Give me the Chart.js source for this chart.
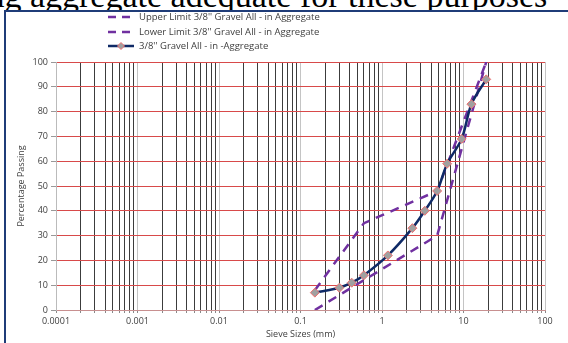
<!DOCTYPE html>
<html>
<head>
<meta charset="utf-8">
<script src="https://cdn.jsdelivr.net/npm/chart.js@4.4.0/dist/chart.umd.min.js"></script>
<style>
  html, body { margin: 0; padding: 0; background: #fff; }
  body { width: 568px; height: 343px; position: relative; overflow: hidden; }
  #doctext {
    position: absolute; left: -22px; top: -23px; white-space: nowrap;
    font-family: "Liberation Serif", serif; font-size: 34px; color: #000;
  }
  #frame {
    position: absolute; left: 4px; top: 10px; width: 580px; height: 350px;
    border: 2px solid #1f3c78; border-right: none; border-bottom: none; box-sizing: border-box;
    background: #fff;
  }
  #wrap { position: absolute; left: 0; top: 0; width: 568px; height: 343px; }
  #legend {
    position: absolute; left: 106px; top: 10px;
    font-family: "Open Sans", sans-serif; font-size: 9.5px; color: #404040;
  }
  #legend div { height: 14.5px; line-height: 14.5px; white-space: nowrap; }
  #legend canvas { vertical-align: middle; margin-right: 5px; }
</style>
</head>
<body>
<div id="doctext">ing aggregate adequate for these purposes</div>
<div id="frame"></div>
<div id="wrap"><canvas id="chart" width="568" height="343"></canvas></div>
<div id="legend"></div>
<script>
// sieve sizes (mm) and % passing
const sampleSizes = [0.15, 0.3, 0.425, 0.6, 1.18, 2.36, 3.35, 4.75, 6.3, 9.5, 12.5, 19];
const samplePassing = [7, 9, 11, 14, 22, 33, 40, 48, 59, 69, 83, 93];

const upperSizes = [0.15, 0.6, 4.75, 19];
const upperPassing = [8, 35, 48, 100];

const lowerSizes = [0.15, 4.75, 19];
const lowerPassing = [0, 30, 100];

const xTickLabels = ['0.0001', '0.001', '0.01', '0.1', '1', '10', '100'];
const yTicks = [0, 10, 20, 30, 40, 50, 60, 70, 80, 90, 100];

const labels = [
  "Upper Limit 3/8'' Gravel All - in Aggregate",
  "Lower Limit 3/8'' Gravel All - in Aggregate",
  "3/8'' Gravel All - in -Aggregate"
];

function pts(xs, ys) {
  return xs.map((x, i) => ({ x: x, y: ys[i] }));
}

const PURPLE = '#7030a0';
const NAVY = '#0f2a66';

const data = {
  datasets: [
    {
      label: labels[0],
      data: pts(upperSizes, upperPassing),
      showLine: true,
      borderColor: PURPLE,
      borderWidth: 2.5,
      borderDash: [9, 7],
      pointRadius: 0,
      order: 2
    },
    {
      label: labels[1],
      data: pts(lowerSizes, lowerPassing),
      showLine: true,
      borderColor: PURPLE,
      borderWidth: 2.5,
      borderDash: [9, 7],
      pointRadius: 0,
      order: 2
    },
    {
      label: labels[2],
      data: pts(sampleSizes, samplePassing),
      showLine: true,
      borderColor: NAVY,
      borderWidth: 2.5,
      tension: 0.3,
      pointStyle: 'rectRot',
      pointRadius: 4.5,
      pointBackgroundColor: '#a0a0a0',
      pointBorderColor: '#f07070',
      pointBorderWidth: 1,
      order: 1
    }
  ]
};

function isDecade(v) {
  const l = Math.log10(v);
  return Math.abs(l - Math.round(l)) < 1e-9;
}

const FONT = { family: 'Open Sans', size: 9 };

const options = {
  responsive: false,
  animation: false,
  layout: { padding: { left: 13, top: 62, right: 23, bottom: 0 } },
  plugins: {
    legend: { display: false },
    tooltip: { enabled: false }
  },
  scales: {
    x: {
      type: 'logarithmic',
      min: 0.0001,
      max: 100,
      afterFit: function(scale) { scale.height = 33; },
      afterBuildTicks: function(scale) {
        const t = [];
        for (let e = -4; e < 2; e++) {
          for (let m = 1; m < 10; m++) t.push({ value: m * Math.pow(10, e) });
        }
        t.push({ value: 100 });
        scale.ticks = t;
      },
      ticks: {
        autoSkip: false,
        maxRotation: 0,
        padding: 3,
        color: '#404040',
        font: FONT,
        callback: function(v) {
          if (!isDecade(v)) return '';
          return xTickLabels[Math.round(Math.log10(v)) + 4];
        }
      },
      grid: {
        color: function(ctx) {
          if (!ctx.tick) return '#333';
          return isDecade(ctx.tick.value) ? '#c4c4c4' : '#3c3c3c';
        },
        lineWidth: 1,
        drawTicks: true,
        tickLength: 3,
        tickColor: '#888'
      },
      border: { color: '#c89090', width: 1 },
      title: {
        display: true,
        text: 'Sieve Sizes (mm)',
        color: '#404040',
        font: FONT,
        padding: { top: 0, bottom: 3 }
      }
    },
    y: {
      min: 0,
      max: 100,
      afterFit: function(scale) { scale.width = 43; },
      afterBuildTicks: function(scale) {
        scale.ticks = yTicks.map(v => ({ value: v }));
      },
      ticks: {
        color: '#404040',
        font: FONT,
        padding: 3
      },
      grid: {
        color: '#d84a4a',
        lineWidth: 1,
        tickLength: 5,
        tickColor: '#999'
      },
      border: { color: '#bbbbbb', width: 1 },
      title: {
        display: true,
        text: 'Percentage Passing',
        color: '#404040',
        font: FONT,
        padding: { top: 3, bottom: 0 }
      }
    }
  }
};

const chart = new Chart(document.getElementById('chart'), {
  type: 'scatter',
  data: data,
  options: options
});

// legend built from dataset styles
const legend = document.getElementById('legend');
data.datasets.forEach(function(ds) {
  const row = document.createElement('div');
  const c = document.createElement('canvas');
  c.width = 28; c.height = 10;
  const g = c.getContext('2d');
  g.strokeStyle = ds.borderColor;
  g.lineWidth = 2.5;
  if (ds.borderDash) g.setLineDash([8, 6]);
  g.beginPath(); g.moveTo(2, 5); g.lineTo(28, 5); g.stroke();
  if (ds.pointRadius) {
    g.setLineDash([]);
    g.fillStyle = ds.pointBackgroundColor;
    g.strokeStyle = ds.pointBorderColor;
    g.lineWidth = 1;
    g.beginPath(); g.moveTo(15, 1.5); g.lineTo(18.5, 5); g.lineTo(15, 8.5); g.lineTo(11.5, 5); g.closePath();
    g.fill(); g.stroke();
  }
  row.appendChild(c);
  row.appendChild(document.createTextNode(ds.label));
  legend.appendChild(row);
});
</script>
</body>
</html>
